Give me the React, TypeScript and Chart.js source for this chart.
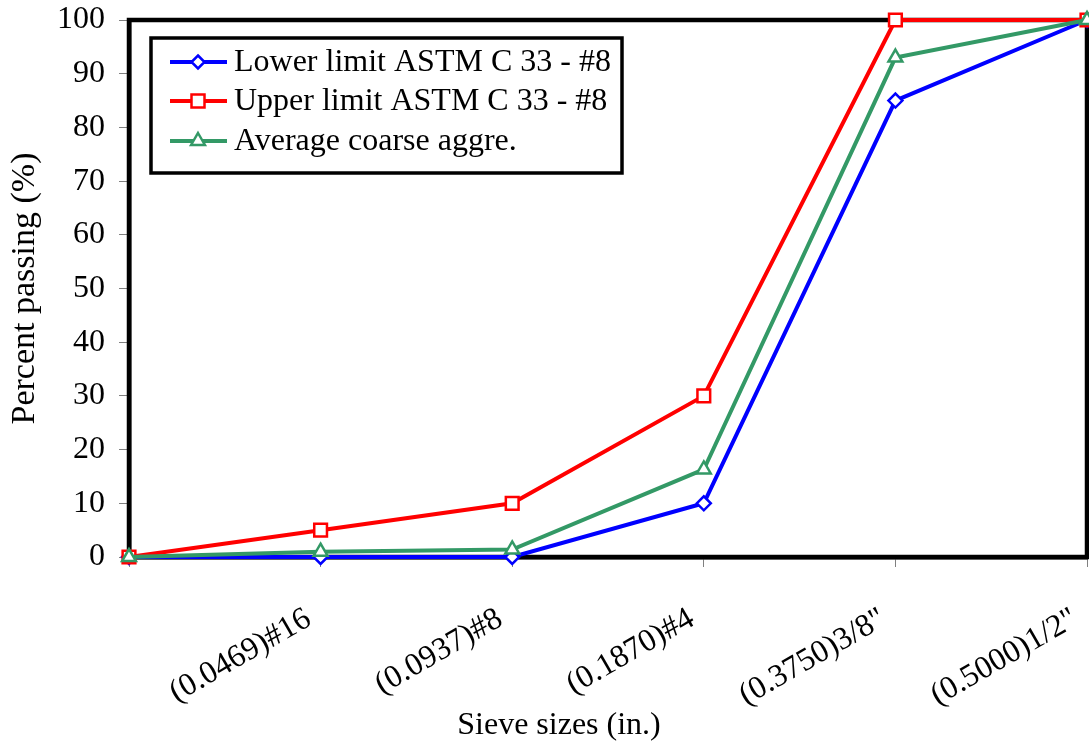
import React, { useEffect, useRef } from "react";
import { Chart, registerables } from "chart.js";

Chart.register(...registerables);

const categories = ["", "(0.0469)#16", "(0.0937)#8", "(0.1870)#4", "(0.3750)3/8\"", "(0.5000)1/2\""];
const lowerLimit = [0, 0, 0, 10, 85, 100];
const upperLimit = [0, 5, 10, 30, 100, 100];
const averageCoarse = [0, 1, 1.4, 16.3, 93, 100];
const seriesNames = ["Lower limit ASTM C 33 - #8", "Upper limit ASTM C 33 - #8", "Average coarse aggre."];
const yTitle = "Percent passing (%)";
const xTitle = "Sieve sizes (in.)";

const FONT = "'Liberation Serif', 'Times New Roman', serif";
const FS = 32;
const colors = ["#0000FF", "#FF0000", "#339966"];
const styles = ["rectRot", "rect", "triangle"];
const radii = [7, 9, 8];

export default function App() {
  const ref = useRef<HTMLCanvasElement | null>(null);
  useEffect(() => {
    document.body.style.margin = "0";
    const canvas = ref.current!;
    const framePlugin = {
      id: "frame",
      beforeDatasetsDraw(chart: any) {
        const { ctx, chartArea } = chart;
        ctx.save();
        ctx.strokeStyle = "#000";
        ctx.lineWidth = 4.5;
        ctx.strokeRect(chartArea.left, chartArea.top, chartArea.right - chartArea.left, chartArea.bottom - chartArea.top);
        ctx.restore();
      },
    };
    const legendPlugin = {
      id: "boxLegend",
      afterDatasetsDraw(chart: any) {
        const { ctx } = chart;
        ctx.save();
        const bx = 151, by = 38, bw = 471, bh = 135;
        ctx.fillStyle = "#fff";
        ctx.fillRect(bx, by, bw, bh);
        ctx.strokeStyle = "#000";
        ctx.lineWidth = 3.5;
        ctx.strokeRect(bx, by, bw, bh);
        const rows = [62, 101, 141];
        seriesNames.forEach((name, i) => {
          const y = rows[i];
          ctx.strokeStyle = colors[i];
          ctx.lineWidth = 4;
          ctx.beginPath();
          ctx.moveTo(170, y);
          ctx.lineTo(227, y);
          ctx.stroke();
          ctx.fillStyle = "#fff";
          ctx.lineWidth = 2.5;
          ctx.strokeStyle = colors[i];
          ctx.beginPath();
          const cx = 198;
          if (styles[i] === "rectRot") {
            const r = 6.5;
            ctx.moveTo(cx, y - r); ctx.lineTo(cx + r, y); ctx.lineTo(cx, y + r); ctx.lineTo(cx - r, y); ctx.closePath();
          } else if (styles[i] === "rect") {
            const s = 6.5;
            ctx.rect(cx - s, y - s, 2 * s, 2 * s);
          } else {
            const r = 8;
            ctx.moveTo(cx, y - r);
            ctx.lineTo(cx + r * 0.866, y + r * 0.5);
            ctx.lineTo(cx - r * 0.866, y + r * 0.5);
            ctx.closePath();
          }
          ctx.fill();
          ctx.stroke();
          ctx.fillStyle = "#000";
          ctx.font = `${FS}px ${FONT}`;
          ctx.textBaseline = "middle";
          ctx.textAlign = "left";
          ctx.fillText(name, 234, y + 1);
        });
        ctx.restore();
      },
      afterDraw(chart: any) {
        const { ctx } = chart;
        ctx.save();
        ctx.fillStyle = "#000";
        ctx.font = `${FS}px ${FONT}`;
        ctx.textAlign = "center";
        ctx.textBaseline = "alphabetic";
        ctx.fillText(xTitle, 559, 734);
        ctx.restore();
      },
    };
    const zeroPad = (scale: any) => {
      scale.paddingLeft = 0;
      scale.paddingRight = 0;
      scale.paddingTop = 0;
      scale.paddingBottom = 0;
    };
    const data = [lowerLimit, upperLimit, averageCoarse];
    const chart = new Chart(canvas, {
      type: "line",
      data: {
        labels: categories,
        datasets: data.map((d, i) => ({
          label: seriesNames[i],
          data: d,
          borderColor: colors[i],
          backgroundColor: colors[i],
          borderWidth: 4,
          pointStyle: styles[i] as any,
          pointRadius: radii[i],
          pointBackgroundColor: "#fff",
          pointBorderColor: colors[i],
          pointBorderWidth: 2.5,
          tension: 0,
          clip: false as any,
          order: 2 - i,
        })),
      },
      options: {
        animation: false,
        responsive: false,
        maintainAspectRatio: false,
        layout: { autoPadding: false, padding: { top: 20, right: 2, left: 0, bottom: 0 } },
        plugins: { legend: { display: false }, tooltip: { enabled: false } },
        scales: {
          x: {
            type: "category",
            grid: { display: true, drawOnChartArea: false, drawTicks: true, tickLength: 10, color: "#808080", lineWidth: 1 },
            border: { display: true, color: "#000", width: 4.5 },
            ticks: {
              color: "#000",
              font: { family: FONT, size: FS },
              minRotation: 30,
              maxRotation: 30,
              padding: 33,
              labelOffset: -12,
              autoSkip: false,
            },
            afterFit(scale: any) { scale.height = 188; zeroPad(scale); },
          },
          y: {
            min: 0,
            max: 100,
            grid: { display: true, drawOnChartArea: false, drawTicks: true, tickLength: 10, color: "#808080", lineWidth: 1 },
            border: { display: true, color: "#000", width: 4.5 },
            ticks: { stepSize: 10, color: "#000", font: { family: FONT, size: FS }, padding: 14 },
            title: { display: true, text: yTitle, color: "#000", font: { family: FONT, size: 34 }, padding: { top: 5, bottom: 4 } },
            afterFit(scale: any) { scale.width = 129; zeroPad(scale); },
          },
        },
      },
      plugins: [framePlugin, legendPlugin],
    });
    return () => chart.destroy();
  }, []);
  return (
    <div style={{ position: "absolute", left: 0, top: 0, width: 1089, height: 745, background: "#fff" }}>
      <canvas ref={ref} width={1089} height={745} style={{ display: "block", width: 1089, height: 745 }} />
    </div>
  );
}
